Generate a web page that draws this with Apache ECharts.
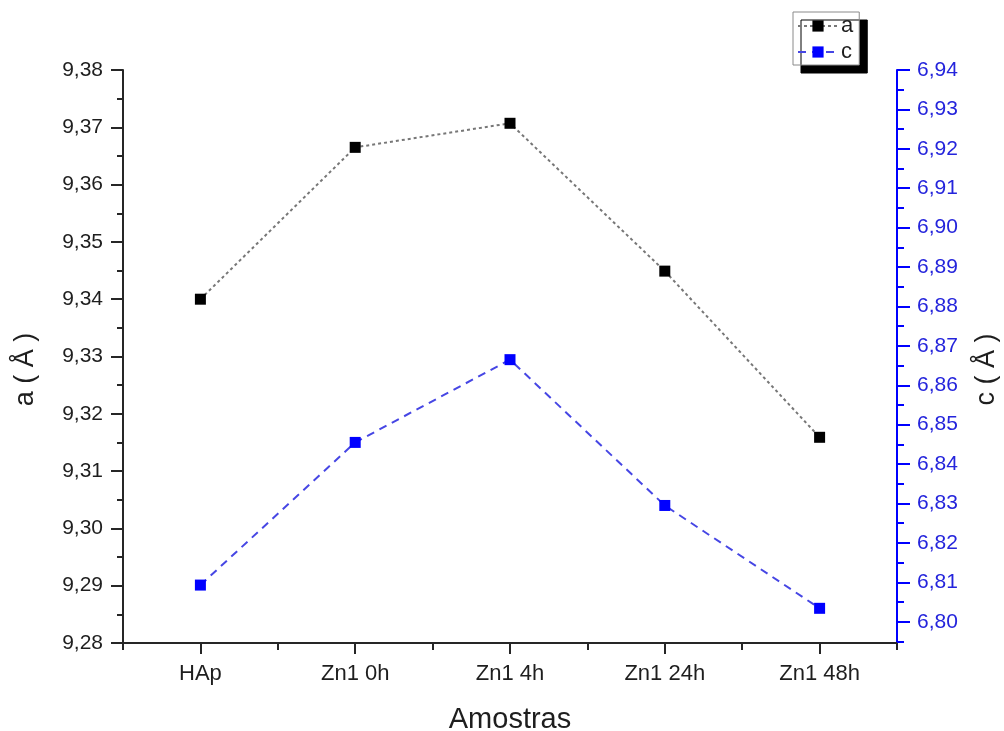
<!DOCTYPE html>
<html>
<head>
<meta charset="utf-8">
<title>Parâmetros de rede a e c</title>
<script src="https://cdn.jsdelivr.net/npm/echarts@6/dist/echarts.min.js"></script>
<style>
  html, body { margin: 0; padding: 0; background: #fff; }
  #chart { width: 1004px; height: 731px; }
</style>
</head>
<body>
<div id="chart"></div>
<script>
// Samples on the horizontal axis
const categories = ['HAp', 'Zn1 0h', 'Zn1 4h', 'Zn1 24h', 'Zn1 48h'];

// Lattice parameter a (Å), left axis
const aValues = [9.3400, 9.3665, 9.3707, 9.3449, 9.3159];

// Lattice parameter c (Å), right axis
const cValues = [6.8093, 6.8455, 6.8665, 6.8295, 6.8034];

// Right axis: labelled ticks and the minor ticks between them
const cMajorTicks = [6.80, 6.81, 6.82, 6.83, 6.84, 6.85, 6.86, 6.87, 6.88, 6.89, 6.90, 6.91, 6.92, 6.93, 6.94];
const cMinorTicks = [6.795, 6.805, 6.815, 6.825, 6.835, 6.845, 6.855, 6.865, 6.875, 6.885, 6.895, 6.905, 6.915, 6.925, 6.935];

const FONT = "'Liberation Sans', Arial, sans-serif";
const BLUE = '#0000ff';
const BLUE_TEXT = '#2424dc';
const INK = '#1e1e1e';
const AXIS = '#262626';

const comma = v => Number(v).toFixed(2).replace('.', ',');

const chart = echarts.init(document.getElementById('chart'), null, { renderer: 'canvas' });

chart.setOption({
  animation: false,
  backgroundColor: '#ffffff',
  textStyle: { fontFamily: FONT },
  grid: { left: 123, right: 107, top: 70, bottom: 88, containLabel: false, outerBoundsMode: 'none' },
  legend: {
    orient: 'vertical',
    left: 793,
    top: 12,
    padding: [3, 6, 2, 4],
    itemGap: 4,
    itemWidth: 40,
    itemHeight: 14,
    backgroundColor: '#ffffff',
    borderColor: '#8a8a8a',
    borderWidth: 1,
    borderRadius: 0,
    shadowColor: '#000000',
    shadowBlur: 0,
    shadowOffsetX: 8,
    shadowOffsetY: 8,
    textStyle: { fontFamily: FONT, fontSize: 22, color: INK, padding: [0, 0, 0, -2] },
    data: ['a', 'c']
  },
  xAxis: [
    {
      type: 'category',
      data: categories,
      boundaryGap: true,
      position: 'bottom',
      axisLine: { show: true, lineStyle: { color: AXIS, width: 2 } },
      axisTick: { show: true, alignWithLabel: true, length: 11, lineStyle: { color: AXIS, width: 2 } },
      axisLabel: { color: INK, fontSize: 22, fontFamily: FONT, margin: 20 },
      splitLine: { show: false },
      name: 'Amostras',
      nameLocation: 'middle',
      nameGap: 62,
      nameTextStyle: { color: INK, fontSize: 29, fontFamily: FONT }
    },
    {
      // ticks on the boundaries between samples
      type: 'category',
      data: categories,
      boundaryGap: true,
      position: 'bottom',
      offset: 0,
      axisLine: { show: false },
      axisTick: { show: true, alignWithLabel: false, length: 7, lineStyle: { color: AXIS, width: 2 } },
      axisLabel: { show: false },
      splitLine: { show: false }
    }
  ],
  yAxis: [
    {
      type: 'value',
      position: 'left',
      min: 9.28,
      max: 9.38,
      interval: 0.01,
      axisLine: { show: true, lineStyle: { color: AXIS, width: 2 } },
      axisTick: { show: true, length: 12, lineStyle: { color: AXIS, width: 2 } },
      minorTick: { show: true, splitNumber: 2, length: 6, lineStyle: { color: AXIS, width: 2 } },
      axisLabel: { color: INK, fontSize: 21, fontFamily: FONT, margin: 20, formatter: comma },
      splitLine: { show: false },
      name: 'a ( Å )',
      nameLocation: 'middle',
      nameRotate: 90,
      nameGap: 84,
      nameTextStyle: { color: INK, fontSize: 27, fontFamily: FONT, padding: [0, 26, 0, 0] }
    },
    {
      type: 'value',
      position: 'right',
      offset: 0,
      min: 6.7946,
      max: 6.94,
      axisLine: { show: true, lineStyle: { color: BLUE, width: 2 } },
      axisTick: { show: true, length: 13, customValues: cMajorTicks, lineStyle: { color: BLUE, width: 2 } },
      axisLabel: { color: BLUE_TEXT, fontSize: 21, fontFamily: FONT, margin: 20, customValues: cMajorTicks, formatter: comma },
      splitLine: { show: false },
      name: 'c ( Å )',
      nameLocation: 'middle',
      nameRotate: 90,
      nameGap: 76,
      nameTextStyle: { color: INK, fontSize: 27, fontFamily: FONT, padding: [0, 26, 0, 0] }
    },
    {
      // minor ticks of the c axis
      type: 'value',
      position: 'right',
      offset: 0,
      min: 6.7946,
      max: 6.94,
      axisLine: { show: false },
      axisTick: { show: true, length: 7, customValues: cMinorTicks, lineStyle: { color: BLUE, width: 2 } },
      axisLabel: { show: false },
      splitLine: { show: false }
    }
  ],
  series: [
    {
      name: 'a',
      type: 'line',
      xAxisIndex: 0,
      yAxisIndex: 0,
      data: aValues,
      symbol: 'rect',
      symbolSize: 11,
      itemStyle: { color: '#000000' },
      lineStyle: { color: '#777777', width: 2, type: [3, 3] },
      z: 3
    },
    {
      name: 'c',
      type: 'line',
      xAxisIndex: 0,
      yAxisIndex: 1,
      data: cValues,
      symbol: 'rect',
      symbolSize: 11,
      itemStyle: { color: BLUE },
      lineStyle: { color: '#4646e4', width: 2, type: [8, 6] },
      z: 3
    }
  ]
});
</script>
</body>
</html>
